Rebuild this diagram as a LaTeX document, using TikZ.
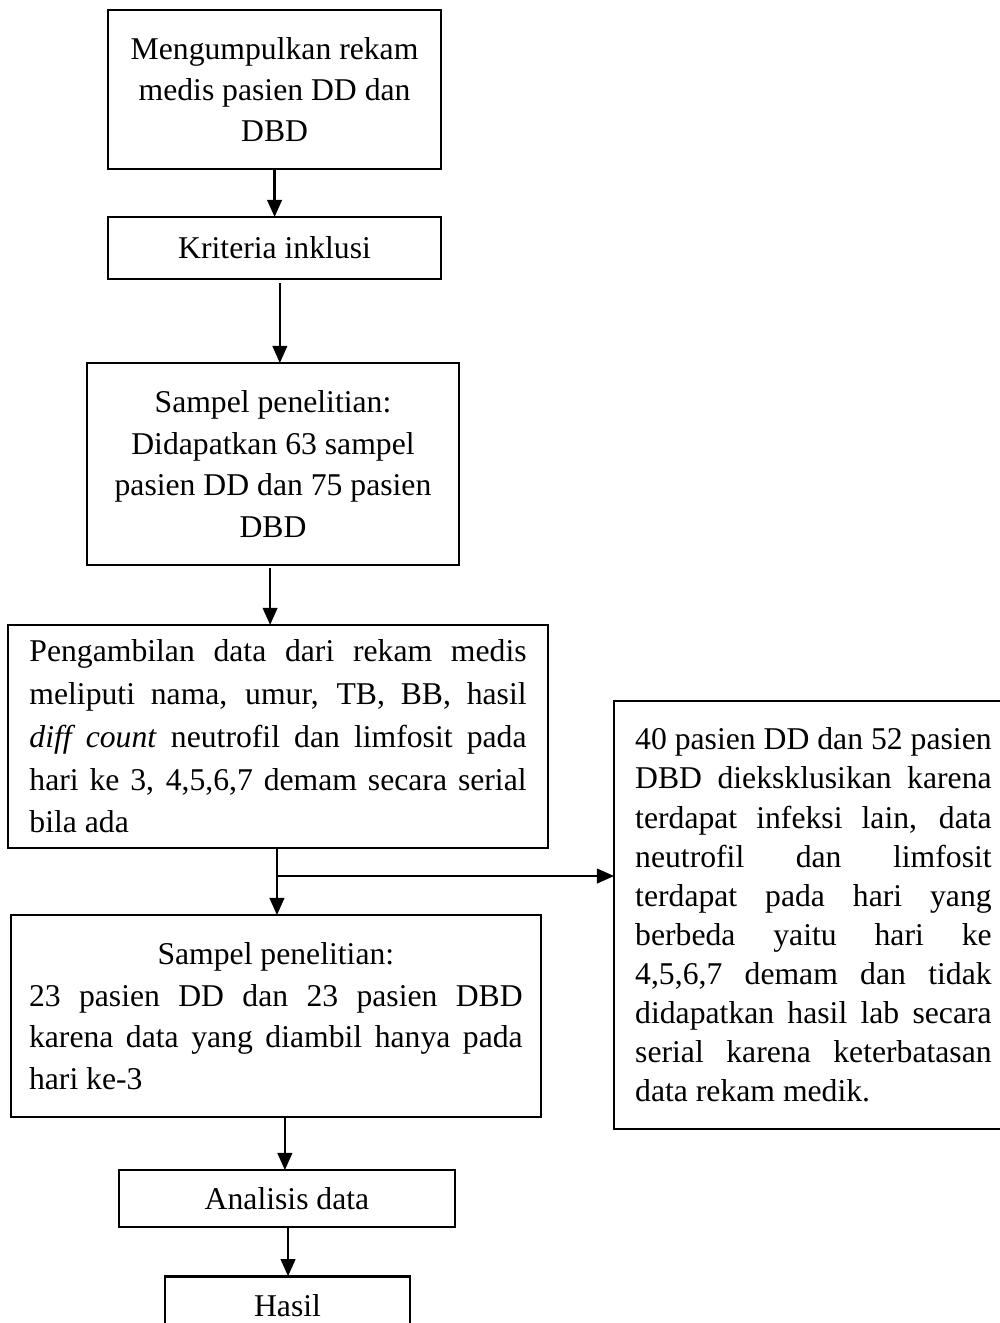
\documentclass[tikz,border=0pt]{standalone}
\usepackage{fontspec}
\setmainfont{Liberation Serif}
\usetikzlibrary{shapes,arrows.meta,positioning,calc}

\begin{document}
\begin{tikzpicture}[node distance=0.8cm]
\tikzstyle{kotak} = [rectangle, draw=black, line width=0.95pt, inner sep=0pt, outer sep=0pt, font=\fontsize{12}{15.7}\selectfont, execute at begin node={\parindent=0pt\hyphenpenalty=10000\exhyphenpenalty=10000}];
\tikzstyle{tengah} = [align=center];
\tikzstyle{rata} = [align=justify];
\tikzstyle{panah} = [line width=0.95pt, -{Triangle[length=6.5pt,width=5.5pt]}];

\useasboundingbox (0,0) rectangle (378.4pt,-501.1pt);

\node (rekam) [kotak, tengah, minimum width=126.1pt, minimum height=60.2pt, anchor=north] at (104pt,-3.8pt) {Mengumpulkan rekam\\medis pasien DD dan\\DBD};
\node (kriteria) [kotak, tengah, minimum width=126.1pt, minimum height=23.5pt, below=18.2pt of rekam] {Kriteria inklusi};
\node (sampel) [kotak, tengah, minimum width=140.9pt, minimum height=76.5pt, below=31.8pt of kriteria, xshift=-0.6pt] {Sampel penelitian:\\Didapatkan 63 sampel\\pasien DD dan 75 pasien\\DBD};
\node (ambil) [kotak, rata, text width=188.3pt, inner xsep=8.1pt, minimum height=84.5pt, below=22.7pt of sampel, xshift=1.9pt, font=\fontsize{12}{16.2}\selectfont] {Pengambilan data dari rekam medis\linebreak meliputi nama, umur, TB, BB, hasil\linebreak \textit{diff count} neutrofil dan limfosit pada\linebreak hari ke 3, 4,5,6,7 demam secara serial\linebreak bila ada};
\node (sampelakhir) [kotak, rata, text width=187pt, inner xsep=6.9pt, minimum height=76.5pt, below=25.4pt of ambil, xshift=-0.8pt] {\hfil Sampel penelitian:\hfil\penalty-10000 23 pasien DD dan 23 pasien DBD\linebreak karena data yang diambil hanya pada\linebreak hari ke-3};
\node (analisis) [kotak, tengah, minimum width=127.3pt, minimum height=21.6pt, below=20.1pt of sampelakhir, xshift=4.2pt] {Analisis data};
\node (hasil) [kotak, tengah, minimum width=92.8pt, minimum height=22pt, below=18.6pt of analisis, xshift=0.2pt] {Hasil};
\node (eksklusi) [kotak, rata, text width=135pt, inner xsep=8pt, minimum height=162.1pt, anchor=north west, font=\fontsize{12}{14.8}\selectfont] at (232.6pt,-265.5pt) {40 pasien DD dan 52 pasien\linebreak DBD dieksklusikan karena\linebreak terdapat infeksi lain, data\linebreak neutrofil dan limfosit\linebreak terdapat pada hari yang\linebreak berbeda yaitu hari ke\linebreak 4,5,6,7 demam dan tidak\linebreak didapatkan hasil lab secara\linebreak serial karena keterbatasan\linebreak data rekam medik.};

\draw[panah] (rekam) -- (kriteria);
\draw[panah] ([xshift=2pt,yshift=-1.5pt]kriteria.south) coordinate (k1) -- (k1 |- sampel.north);
\draw[panah] ([xshift=-1.1pt,yshift=-1.2pt]sampel.south) coordinate (k2) -- (k2 |- ambil.north);
\draw[panah] ([xshift=-0.4pt]ambil.south) coordinate (k3) -- (k3 |- sampelakhir.north);
\coordinate (cabang) at ([yshift=-10.6pt]k3);
\draw[panah] (cabang) -- (cabang -| eksklusi.west);
\draw[panah] ([xshift=3.4pt]sampelakhir.south) coordinate (k4) -- (k4 |- analisis.north);
\draw[panah] ([xshift=0.4pt]analisis.south) coordinate (k5) -- (k5 |- hasil.north);
\end{tikzpicture}
\end{document}
